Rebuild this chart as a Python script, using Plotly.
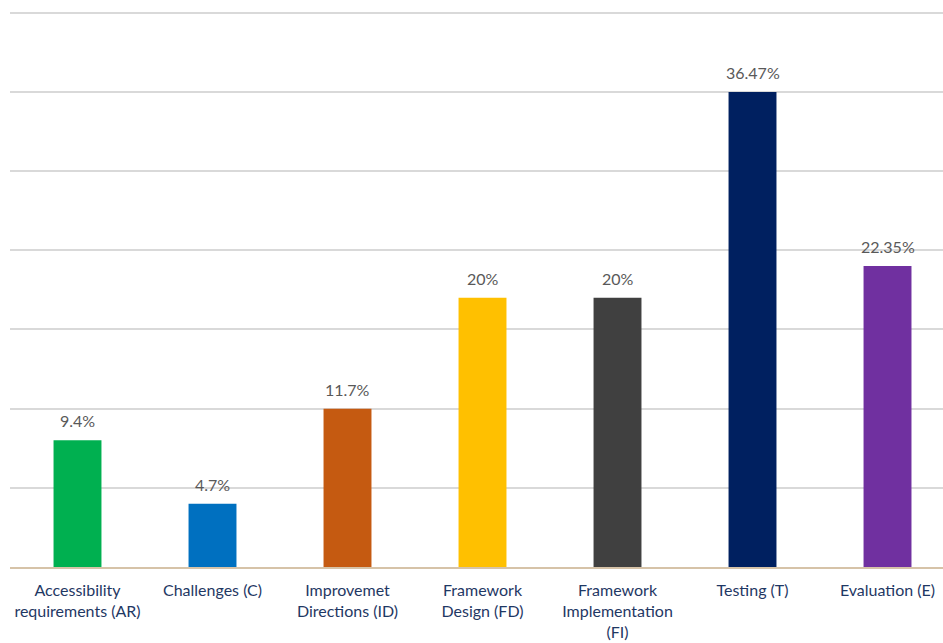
import plotly.graph_objects as go

categories = ["Accessibility<br>requirements (AR)", "Challenges (C)", "Improvemet<br>Directions (ID)",
              "Framework<br>Design (FD)", "Framework<br>Implementation<br>(FI)", "Testing (T)", "Evaluation (E)"]
counts = [8, 4, 10, 17, 17, 30, 19]
labels = ["9.4%", "4.7%", "11.7%", "20%", "20%", "36.47%", "22.35%"]
colors = ["#00b050", "#0070c0", "#c55a11", "#ffc000", "#404040", "#002060", "#7030a0"]

FONT = "Lato, 'Open Sans', sans-serif"

fig = go.Figure(go.Bar(x=categories, y=counts, marker=dict(color=colors, line=dict(width=0)),
                       width=0.355))

for c, v, t in zip(categories, counts, labels):
    fig.add_annotation(x=c, y=v, text=t, showarrow=False, yanchor="bottom", yshift=8,
                       font=dict(family=FONT, size=16, color="#595959"))

fig.update_layout(
    width=943, height=643,
    margin=dict(l=10, r=0, t=8, b=76),
    paper_bgcolor="white", plot_bgcolor="white",
    showlegend=False,
    bargap=0.64,
    xaxis=dict(range=[-0.5, 6.411], showgrid=False, showline=True, linecolor="#d6c3a8", linewidth=1.5,
               ticks="", ticklabelstandoff=8,
               tickfont=dict(family=FONT, size=16, color="#1f3864"), tickangle=0),
    yaxis=dict(range=[0, 35.3], dtick=5, showgrid=True, gridcolor="#d9d9d9", gridwidth=1.5,
               showticklabels=False, zeroline=False, ticks=""),
)

fig.write_html("out.html")
